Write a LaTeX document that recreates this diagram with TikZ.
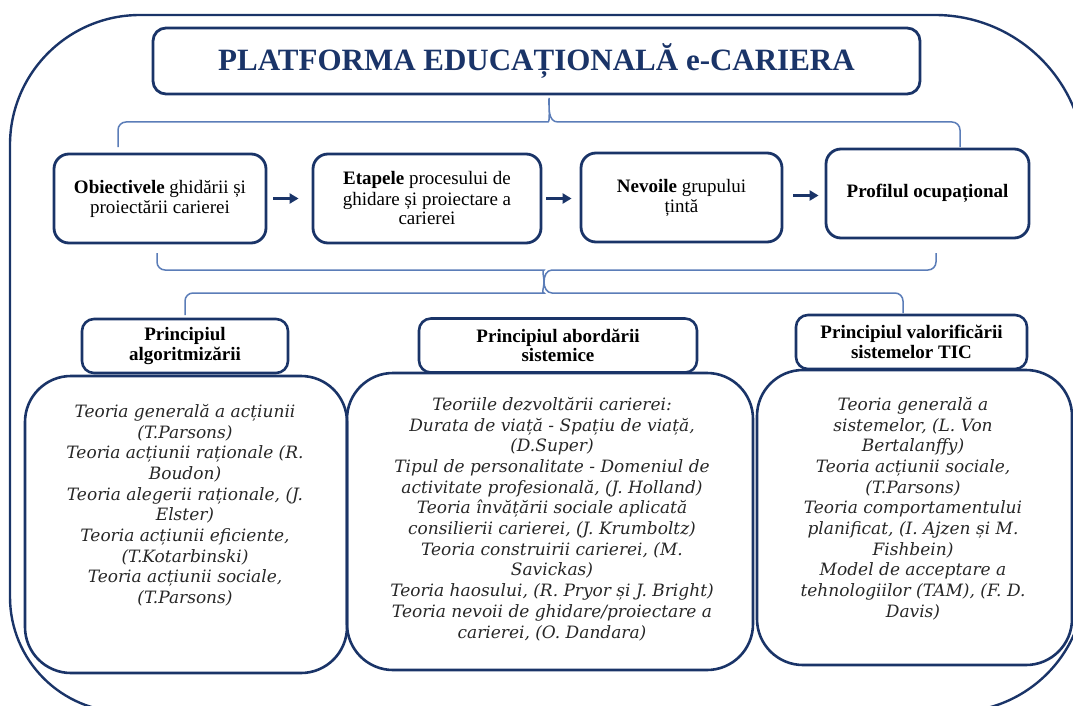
\documentclass[tikz,border=0pt]{standalone}
\usepackage{fontspec}
\setmainfont{Liberation Serif}
\newfontfamily\theofont{DejaVu Serif}
\usepackage{tikz}
\usetikzlibrary{arrows.meta,calc}
\definecolor{navy}{HTML}{1A3468}
\definecolor{bracecol}{HTML}{5B7DB8}
\tikzset{
         frame/.style={draw=navy,line width=2.4pt},
         titlebox/.style={draw=navy,line width=2.8pt,rounded corners=13pt,
                          minimum width=767pt,minimum height=66pt,text=navy,
                          font=\fontsize{31}{36}\selectfont\bfseries},
         rowbox/.style={draw=navy,line width=2.8pt,rounded corners=15pt,
                        minimum height=89pt,align=center,inner sep=0pt,
                        font=\fontsize{19}{20}\selectfont},
         headbox/.style={draw=navy,line width=2.6pt,rounded corners=12pt,
                         minimum height=54pt,align=center,inner sep=0pt,
                         font=\fontsize{19}{19.5}\selectfont\bfseries},
         theobox/.style={draw=navy,line width=2.6pt,rounded corners=46pt,
                         minimum height=297pt},
         theotext/.style={anchor=north,align=center,inner sep=0pt,text=black!85,
                          font=\theofont\itshape\fontsize{17}{20.7}\selectfont},
         brace/.style={draw=bracecol,line width=1.5pt},
         flow/.style={draw=navy,line width=2.6pt,-{Triangle[length=9pt,width=10pt]}}
        }
\begin{document}
\begin{tikzpicture}[x=1pt,y=-1pt]
\useasboundingbox (0,0) rectangle (1073,706);
\clip (0,0) rectangle (1073,706);
\draw[frame] (10,400) [rounded corners=130pt] |- (600,15) [rounded corners=150pt] -| (1085,400) [rounded corners=130pt] |- (600,712) [rounded corners=115pt] -| (10,400) -- cycle; % outer frame
\node[titlebox] (title) at (536.5,61) {PLATFORMA EDUCAȚIONALĂ e-CARIERA}; % title
\node[rowbox,minimum width=212pt] (obj) at (160,198.5) {\textbf{Obiectivele} ghidării și\\proiectării carierei}; % objectives
\node[rowbox,minimum width=228pt] (eta) at (427,198.5) {\textbf{Etapele} procesului de\\ghidare și proiectare a\\carierei}; % stages
\node[rowbox,minimum width=201pt] (nev) at (681.5,197.5) {\textbf{Nevoile} grupului\\țintă}; % needs
\node[rowbox,minimum width=203pt] (prof) at (927.5,193.5) {\textbf{Profilul ocupațional}}; % profile
\draw[flow,shorten <=6pt,shorten >=13pt] (obj.east) -- (obj.east -| eta.west); % arrow 1
\draw[flow,shorten <=4pt,shorten >=8pt] (eta.east) -- (eta.east -| nev.west); % arrow 2
\draw[flow,shorten <=10pt,shorten >=6pt] ([yshift=2pt]nev.east) -- ([yshift=2pt]nev.east -| prof.west); % arrow 3
\draw[brace] (118,147) [rounded corners=8pt] |- (540,122) [sharp corners] to[out=0,in=-90] (549,98) to[out=-90,in=180] (558,122) [rounded corners=8pt] -| (960,147); % upper brace
\draw[brace] (157,253) [rounded corners=8pt] |- (536,270) [sharp corners] to[out=0,in=90] (544,282) to[out=90,in=180] (552,270) [rounded corners=8pt] -| (936,253); % middle brace
\draw[brace] (185,315) [rounded corners=8pt] |- (536,293) [sharp corners] to[out=0,in=-90] (544,282) to[out=-90,in=180] (552,293) [rounded corners=8pt] -| (903,313); % lower brace
\node[headbox,minimum width=206pt] (alg) at (185,346) {Principiul\\algoritmizării}; % principle 1
\node[headbox,minimum width=278pt] (sis) at (558,345.5) {Principiul abordării\\sistemice}; % principle 2
\node[headbox,minimum width=231pt] (tic) at (911.5,342) {Principiul valorificării\\sistemelor TIC}; % principle 3
\node[theobox,minimum width=322pt] (th1) at (186,524.5) {}; % theories 1
\node[theobox,minimum width=406pt] (th2) at (550,521.5) {}; % theories 2
\node[theobox,minimum width=315pt,minimum height=295pt] (th3) at (914.5,517.5) {}; % theories 3
\node[theotext] (tx1) at (185,404) {Teoria generală a acțiunii\\(T.Parsons)\\Teoria acțiunii raționale (R.\\Boudon)\\Teoria alegerii raționale, (J.\\Elster)\\Teoria acțiunii eficiente,\\(T.Kotarbinski)\\Teoria acțiunii sociale,\\(T.Parsons)}; % text 1
\node[theotext] (tx2) at (552,397) {Teoriile dezvoltării carierei:\\Durata de viață - Spațiu de viață,\\(D.Super)\\Tipul de personalitate - Domeniul de\\activitate profesională, (J. Holland)\\Teoria învățării sociale aplicată\\consilierii carierei, (J. Krumboltz)\\Teoria construirii carierei, (M.\\Savickas)\\Teoria haosului, (R. Pryor și J. Bright)\\Teoria nevoii de ghidare/proiectare a\\carierei, (O. Dandara)}; % text 2
\node[theotext] (tx3) at (913,397) {Teoria generală a\\sistemelor, (L. Von\\Bertalanffy)\\Teoria acțiunii sociale,\\(T.Parsons)\\Teoria comportamentului\\planificat, (I. Ajzen și M.\\Fishbein)\\Model de acceptare a\\tehnologiilor (TAM), (F. D.\\Davis)}; % text 3
\end{tikzpicture}
\end{document}
